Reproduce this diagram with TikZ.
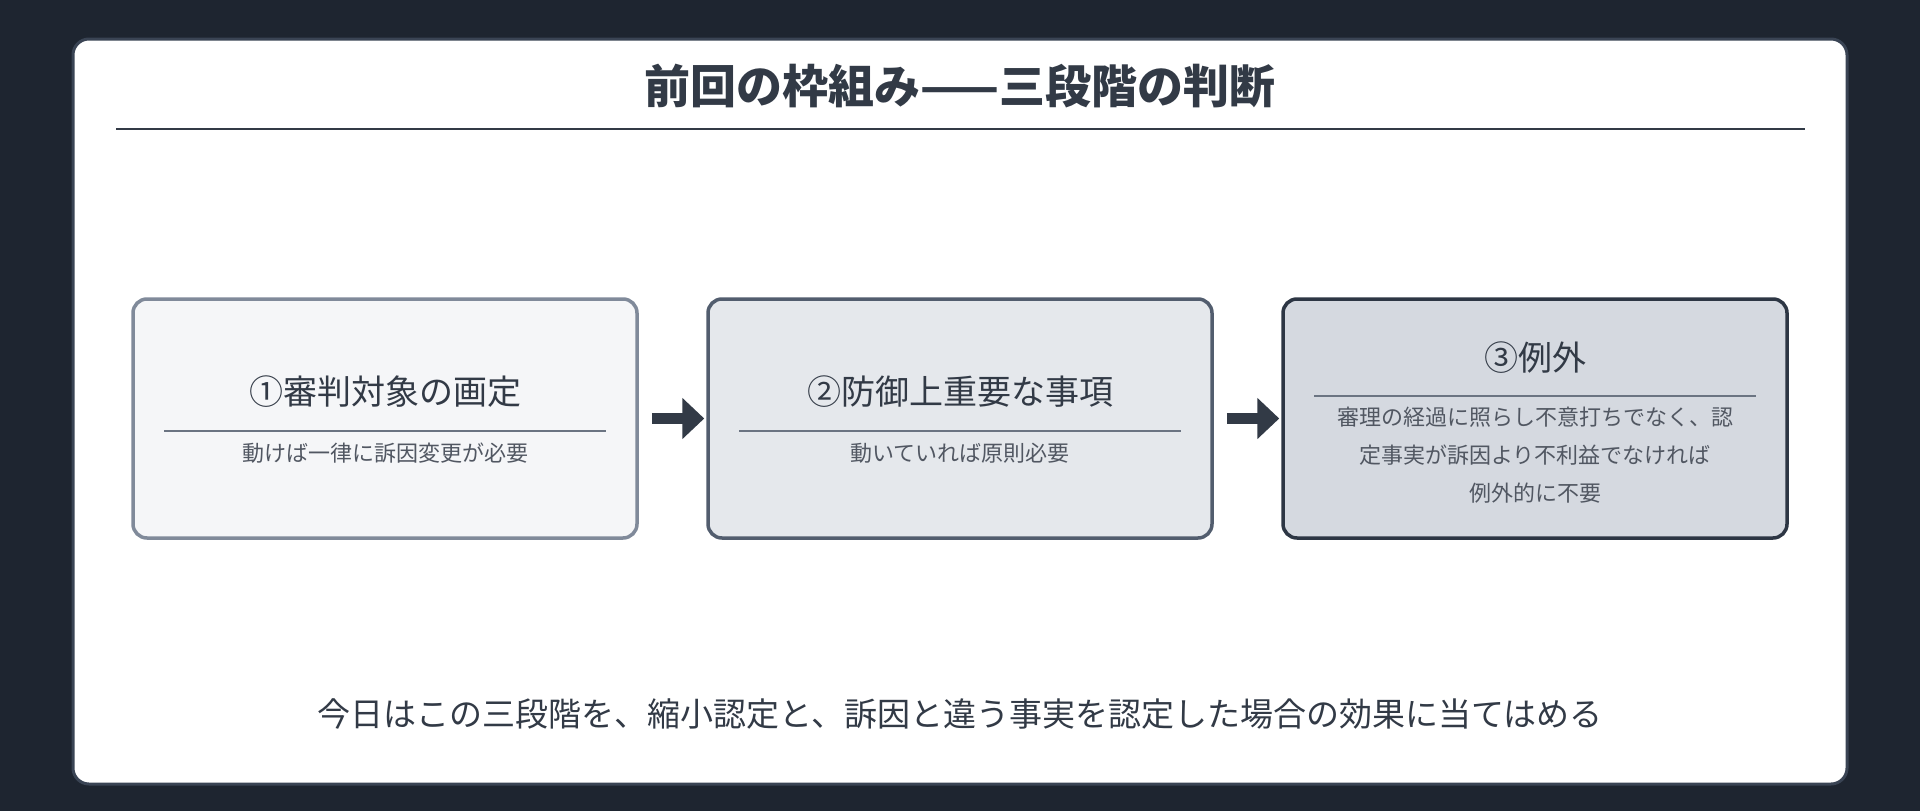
\documentclass[tikz,border=0pt]{standalone}
\usepackage{fontspec}
\setmainfont{Noto Sans CJK JP}
\usetikzlibrary{positioning,arrows.meta}
\definecolor{bgdark}{HTML}{1E2530}
\definecolor{panelline}{HTML}{3A4454}
\definecolor{ink}{HTML}{323A46}
\definecolor{fillA}{HTML}{F5F6F8}
\definecolor{fillB}{HTML}{E5E8EC}
\definecolor{fillC}{HTML}{D5D9E0}
\definecolor{lineA}{HTML}{808A9A}
\definecolor{lineB}{HTML}{525D6E}
\definecolor{lineC}{HTML}{2D3644}
\definecolor{rulegray}{HTML}{6B7482}
\tikzset{
  stage/.style={draw, rounded corners=14pt, line width=3.5pt,
    minimum width=504pt, minimum height=239pt, inner sep=0pt},
  head/.style={text=ink, font=\fontsize{34}{40}\selectfont},
  sub/.style={text=ink!85, font=\fontsize{22}{38}\selectfont, align=center},
  flowarrow/.style={line width=11pt, draw=ink, -{Triangle[length=22pt,width=40pt]}, shorten <=13pt, shorten >=2pt}
}
\begin{document}
\begin{tikzpicture}[x=1pt,y=-1pt]
\fill[bgdark] (0,0) rectangle (1920,811);
\useasboundingbox (0,0) rectangle (1920,811);

% panel and title
\draw[fill=white, draw=panelline, line width=3pt, rounded corners=16pt] (73,39) rectangle (1847,784);
\node[text=ink, font=\bfseries\fontsize{46}{50}\selectfont] (title) at (960,86) {前回の枠組み——三段階の判断};
\draw[ink, line width=2pt] (116,129) -- (1805,129);

% three stages
\node[stage, fill=fillA, draw=lineA] (s1) at (385,418.5) {};
\node[stage, fill=fillB, draw=lineB] (s2) at (960,418.5) {};
\node[stage, fill=fillC, draw=lineC] (s3) at (1535,418.5) {};

\node[head] (h1) at (385,392) {①審判対象の画定};
\draw[rulegray, line width=2pt] (164,431) -- (606,431);
\node[sub] (t1) at (385,453) {動けば一律に訴因変更が必要};

\node[head] (h2) at (960,392) {②防御上重要な事項};
\draw[rulegray, line width=2pt] (739,431) -- (1181,431);
\node[sub] (t2) at (960,453) {動いていれば原則必要};

\node[head] (h3) at (1535,358) {③例外};
\draw[rulegray, line width=2pt] (1314,396) -- (1756,396);
\node[sub] (t3) at (1535,455) {審理の経過に照らし不意打ちでなく、認\\定事実が訴因より不利益でなければ\\例外的に不要};

% arrows
\draw[flowarrow] (s1.east) -- (s2.west);
\draw[flowarrow] (s2.east) -- (s3.west);

% bottom line
\node[text=ink, font=\fontsize{33}{40}\selectfont] (note) at (960,714) {今日はこの三段階を、縮小認定と、訴因と違う事実を認定した場合の効果に当てはめる};
\end{tikzpicture}
\end{document}
